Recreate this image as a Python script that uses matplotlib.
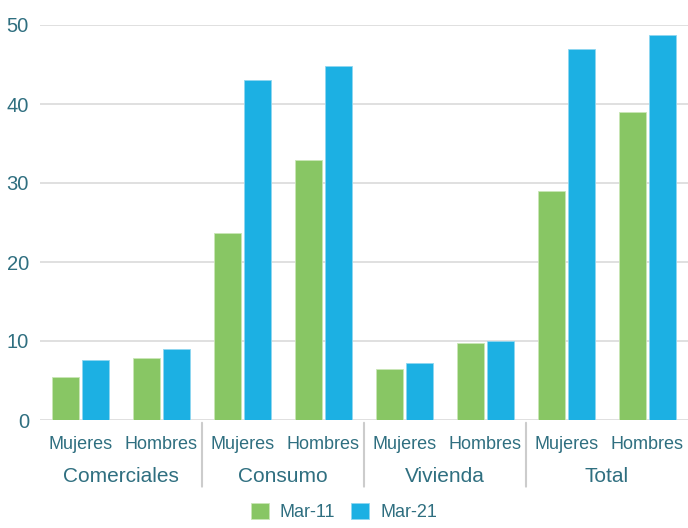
import matplotlib
matplotlib.use("Agg")
import matplotlib.pyplot as plt
import numpy as np

groups = ["Comerciales", "Consumo", "Vivienda", "Total"]
subcats = ["Mujeres", "Hombres"]
series_names = ["Mar-11", "Mar-21"]
mar11 = [5.4, 7.9, 23.7, 32.9, 6.5, 9.7, 29.0, 39.0]
mar21 = [7.6, 9.0, 43.0, 44.8, 7.2, 10.0, 46.9, 48.7]
yticks = [0, 10, 20, 30, 40, 50]

green = "#88C664"
blue = "#1CB0E3"
txt = "#2F6F80"
grid = "#DADADA"

plt.rcParams['font.family'] = ['Liberation Sans', 'DejaVu Sans']

W, H = 688, 528
fig = plt.figure(figsize=(W/100, H/100), dpi=100)
ax = fig.add_axes([40/W, 1-420/H, (688-40)/W, (420-25)/H])

n = len(mar11)
x = np.arange(n)
bw = 0.335
off = 0.19
ax.bar(x - off, mar11, bw, color=green, edgecolor="#C9E6B6", linewidth=0.6, zorder=3, label=series_names[0])
ax.bar(x + off, mar21, bw, color=blue, edgecolor="#8FD6F0", linewidth=0.6, zorder=3, label=series_names[1])

ax.set_xlim(-0.5, n - 0.5)
ax.set_ylim(0, 50)
ax.set_yticks(yticks)
for y in yticks:
    ax.axhline(y, color=grid, lw=1.2, zorder=1)
for s in ax.spines.values():
    s.set_visible(False)
ax.tick_params(axis='y', length=0, labelsize=14.5, labelcolor=txt, pad=8)
ax.set_xticks([])

# subcategory labels
for i in range(n):
    ax.annotate(subcats[i % 2], xy=(i, 0), xycoords=('data', 'axes fraction'),
                xytext=(0, -17.5), textcoords='offset points', ha='center', va='center',
                fontsize=13, color=txt)
# group labels
for g, name in enumerate(groups):
    ax.annotate(name, xy=(2*g + 0.5, 0), xycoords=('data', 'axes fraction'),
                xytext=(0, -40.5), textcoords='offset points', ha='center', va='center',
                fontsize=15, color=txt)
# separators
for g in range(1, len(groups)):
    ax.annotate("", xy=(2*g - 0.5, 0), xycoords=('data', 'axes fraction'),
                xytext=(2*g - 0.5, -50), textcoords=('data', 'offset points'),
                arrowprops=dict(arrowstyle='-', color="#CCCCCC", lw=1.5))

leg = fig.legend(loc='center', bbox_to_anchor=(0.5, 1-512/H), ncol=2, frameon=False,
                 fontsize=13, handlelength=1.0, handleheight=1.0, columnspacing=0.9,
                 handletextpad=0.6)
for t in leg.get_texts():
    t.set_color(txt)

fig.savefig("out.png", dpi=100)
